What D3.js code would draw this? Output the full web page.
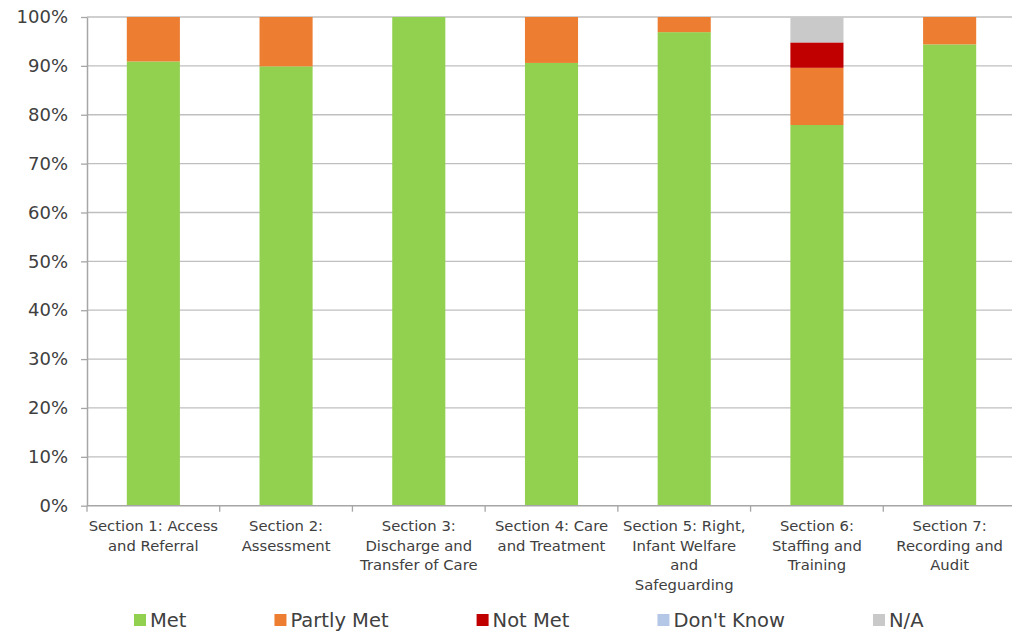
<!DOCTYPE html>
<html>
<head>
<meta charset="utf-8">
<script src="https://cdn.jsdelivr.net/npm/d3@7"></script>
<style>
  html, body { margin: 0; padding: 0; background: #fff; }
  svg { display: block; }
  text { font-family: "DejaVu Sans", sans-serif; fill: #404040; }
</style>
</head>
<body>
<svg id="chart" width="1012" height="631"></svg>
<script>
// Audit sections (x axis), one label line per array entry
const categories = [
  ["Section 1: Access", "and Referral"],
  ["Section 2:", "Assessment"],
  ["Section 3:", "Discharge and", "Transfer of Care"],
  ["Section 4: Care", "and Treatment"],
  ["Section 5: Right,", "Infant Welfare", "and", "Safeguarding"],
  ["Section 6:", "Staffing and", "Training"],
  ["Section 7:", "Recording and", "Audit"]
];

// Share of standards per outcome, in percent
const seriesNames = ["Met", "Partly Met", "Not Met", "Don't Know", "N/A"];
const met        = [90.9, 89.9, 100, 90.6, 96.9, 77.9, 94.4];
const partlyMet  = [9.1, 10.1, 0, 9.4, 3.1, 11.7, 5.6];
const notMet     = [0, 0, 0, 0, 0, 5.2, 0];
const dontKnow   = [0, 0, 0, 0, 0, 0, 0];
const notApplic  = [0, 0, 0, 0, 0, 5.2, 0];
const seriesColors = ["#92d050", "#ed7d31", "#c00000", "#b4c7e7", "#c9c9c9"];

const yTicks = [0, 10, 20, 30, 40, 50, 60, 70, 80, 90, 100];

const seriesValues = [met, partlyMet, notMet, dontKnow, notApplic];
const rows = categories.map((c, i) => {
  const r = { key: i };
  seriesNames.forEach((s, j) => { r[s] = seriesValues[j][i]; });
  return r;
});

const svg = d3.select("#chart");
const plotLeft = 87, plotRight = 1016, plotTop = 17, plotBottom = 505.7;

const x = d3.scaleBand()
  .domain(rows.map(r => r.key))
  .range([plotLeft, plotRight])
  .paddingInner(0.6)
  .paddingOuter(0.3);

const y = d3.scaleLinear().domain([0, 100]).range([plotBottom, plotTop]);

// Horizontal gridlines
svg.append("g")
  .selectAll("line")
  .data(yTicks.filter(t => t > 0))
  .join("line")
  .attr("x1", plotLeft).attr("x2", plotRight)
  .attr("y1", d => y(d)).attr("y2", d => y(d))
  .attr("stroke", "#bfbfbf").attr("stroke-width", 1.3);

// Stacked bars
const stack = d3.stack().keys(seriesNames)(rows);
svg.append("g")
  .selectAll("g")
  .data(stack)
  .join("g")
  .attr("fill", (d, i) => seriesColors[i])
  .selectAll("rect")
  .data(d => d.filter(p => p[1] - p[0] > 0))
  .join("rect")
  .attr("x", d => x(d.data.key))
  .attr("width", x.bandwidth())
  .attr("y", d => y(d[1]))
  .attr("height", d => y(d[0]) - y(d[1]));

// Y axis
const yAxis = svg.append("g")
  .attr("transform", `translate(${plotLeft},0)`)
  .call(d3.axisLeft(y).tickValues(yTicks).tickFormat(d => d + "%").tickSize(6).tickSizeOuter(0));
yAxis.select(".domain").attr("stroke", "#a6a6a6").attr("stroke-width", 1.5);
yAxis.selectAll(".tick line").attr("stroke", "#a6a6a6").attr("stroke-width", 1.3);
yAxis.selectAll(".tick text")
  .attr("x", -19)
  .attr("font-size", 18)
  .style("font-family", "'DejaVu Sans', sans-serif")
  .attr("fill", "#404040");

// X axis with ticks at category boundaries
const boundaries = d3.range(categories.length + 1).map(i => plotLeft + i * x.step());
const xg = svg.append("g");
xg.append("line")
  .attr("x1", plotLeft).attr("x2", plotRight)
  .attr("y1", plotBottom).attr("y2", plotBottom)
  .attr("stroke", "#a6a6a6").attr("stroke-width", 1.5);
xg.selectAll("line.tick")
  .data(boundaries)
  .join("line")
  .attr("class", "tick")
  .attr("x1", d => d).attr("x2", d => d)
  .attr("y1", plotBottom).attr("y2", plotBottom + 6)
  .attr("stroke", "#a6a6a6").attr("stroke-width", 1.3);

// Category labels
svg.append("g")
  .selectAll("text")
  .data(rows)
  .join("text")
  .attr("text-anchor", "middle")
  .attr("font-size", 14.8)
  .each(function (d, i) {
    const t = d3.select(this);
    categories[i].forEach((line, k) => {
      t.append("tspan")
        .attr("x", x(d.key) + x.bandwidth() / 2)
        .attr("y", 531 + k * 19.5)
        .text(line);
    });
  });

// Legend along the bottom edge
const legend = svg.append("g");
let lx = 134;
seriesNames.forEach((name, i) => {
  const g = legend.append("g").attr("transform", `translate(${lx},0)`);
  g.append("rect")
    .attr("x", 0).attr("y", 614)
    .attr("width", 12).attr("height", 12)
    .attr("fill", seriesColors[i]);
  const t = g.append("text")
    .attr("x", 16).attr("y", 627)
    .attr("font-size", 19.5)
    .text(name);
  lx += 16 + t.node().getComputedTextLength() + 88;
});
</script>
</body>
</html>
